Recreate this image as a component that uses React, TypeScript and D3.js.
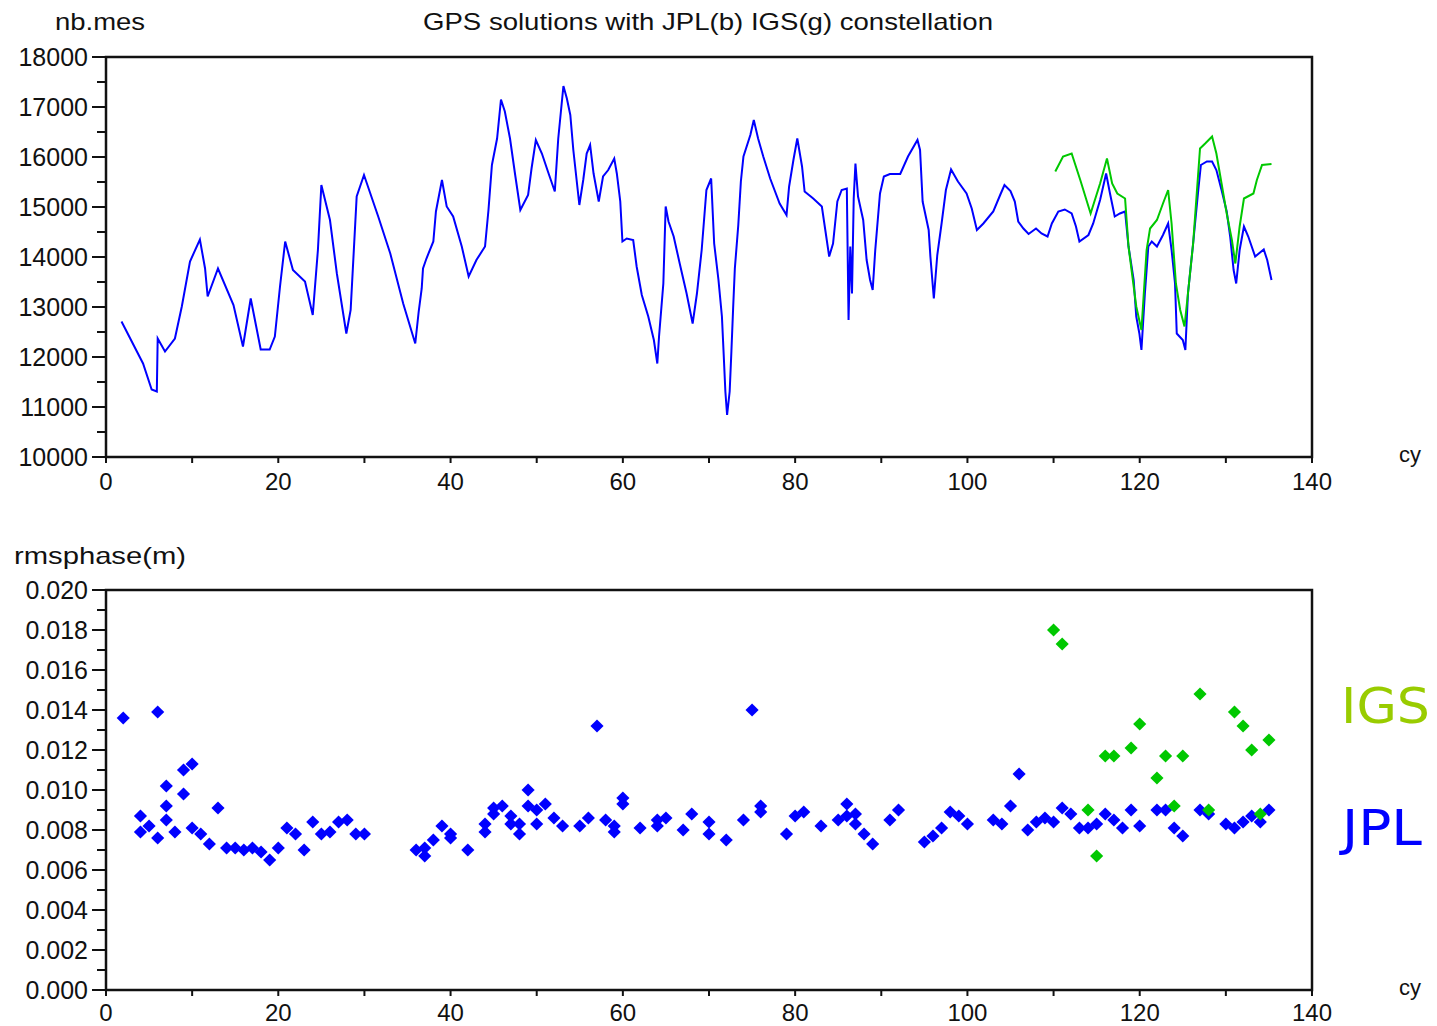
import React from "react";
import * as d3 from "d3";

// ---------- DATA ----------
const xTicksMajor = [0, 20, 40, 60, 80, 100, 120, 140];
const nbTicks = [10000, 11000, 12000, 13000, 14000, 15000, 16000, 17000, 18000];
const rmsTicks = [0.0, 0.002, 0.004, 0.006, 0.008, 0.01, 0.012, 0.014, 0.016, 0.018, 0.02];

// number of measurements, JPL orbits (cycle, nb.mes)
const nbJpl: [number, number][] = [
  [1.8,12710],[4.3,11870],[5.3,11350],[5.9,11310],[6.0,12370],[6.85,12110],[8.0,12370],[8.8,13010],[9.75,13910],[10.9,14350],
  [11.5,13770],[11.8,13210],[13.0,13770],[14.8,13040],[15.9,12210],[16.8,13170],[17.96,12150],[19.0,12150],[19.6,12410],[20.2,13410],
  [20.8,14310],[21.7,13740],[23.1,13510],[24.0,12840],[24.6,14140],[25.0,15440],[26.0,14740],[26.8,13670],[27.9,12470],[28.4,12940],
  [29.1,15210],[29.95,15640],[31.6,14810],[33.0,14070],[34.5,13070],[35.9,12270],[36.3,12910],[36.65,13370],[36.8,13770],[37.2,13970],
  [38.0,14310],[38.3,14910],[39.0,15540],[39.55,15010],[40.3,14810],[41.3,14210],[42.1,13610],[43.0,13940],[44.0,14210],[44.4,14940],
  [44.8,15840],[45.4,16370],[45.85,17150],[46.3,16910],[46.9,16370],[47.5,15640],[48.1,14940],[49.0,15240],[49.4,15770],[49.9,16340],
  [50.6,16070],[51.3,15710],[52.1,15310],[52.5,16370],[53.1,17420],[53.5,17170],[53.9,16840],[54.25,16140],[54.95,15040],[55.4,15540],
  [55.8,16070],[56.2,16240],[56.6,15670],[57.2,15110],[57.7,15610],[58.3,15740],[59.0,15970],[59.3,15670],[59.7,15110],[59.95,14310],
  [60.45,14370],[61.2,14340],[61.6,13810],[62.2,13240],[62.95,12810],[63.6,12340],[64.0,11870],[64.2,12410],[64.7,13470],[64.97,15010],
  [65.3,14710],[65.9,14410],[66.6,13870],[67.4,13270],[68.1,12670],[68.6,13270],[69.15,14140],[69.7,15340],[70.25,15570],[70.6,14270],
  [71.1,13540],[71.5,12810],[71.7,12070],[71.9,11310],[72.1,10840],[72.4,11310],[72.6,12110],[72.8,12970],[73.0,13770],[73.4,14640],
  [73.7,15510],[74.0,16010],[74.8,16440],[75.2,16740],[75.7,16370],[76.3,16010],[77.1,15570],[78.2,15070],[79.0,14840],[79.3,15410],
  [79.8,15940],[80.25,16370],[80.8,15810],[81.1,15310],[82.1,15170],[83.1,15010],[83.5,14540],[83.95,14010],[84.4,14270],[84.9,15110],
  [85.4,15340],[86.0,15370],[86.2,12740],[86.4,14210],[86.6,13270],[86.8,15170],[87.0,15870],[87.3,15210],[87.9,14740],[88.3,13940],
  [88.7,13540],[89.0,13340],[89.3,14140],[89.85,15270],[90.3,15610],[91.0,15660],[92.2,15660],[93.1,16010],[94.2,16340],[94.5,16140],
  [94.8,15110],[95.5,14540],[95.7,14010],[96.1,13170],[96.5,14040],[97.0,14670],[97.5,15340],[98.1,15750],[98.9,15510],[99.9,15270],
  [100.5,14970],[101.1,14540],[101.85,14670],[103.0,14910],[103.8,15240],[104.3,15440],[105.0,15320],[105.5,15110],[105.9,14710],[106.5,14570],
  [107.1,14460],[107.96,14570],[108.6,14470],[109.3,14410],[109.8,14670],[110.55,14910],[111.3,14950],[112.1,14870],[112.6,14610],[113.0,14310],
  [114.05,14440],[114.6,14670],[115.4,15140],[116.1,15670],[116.55,15270],[117.1,14810],[117.7,14870],[118.3,14910],[118.7,14210],[119.3,13540],
  [119.6,12810],[119.96,12470],[120.2,12140],[120.6,13270],[121.0,14210],[121.4,14310],[122.0,14210],[122.7,14440],[123.3,14670],[123.7,14140],
  [124.1,13470],[124.3,12470],[125.0,12340],[125.3,12140],[125.6,13270],[126.2,14270],[126.8,15340],[127.1,15840],[127.8,15910],[128.4,15910],
  [128.9,15740],[129.5,15340],[130.1,14910],[130.5,14410],[130.9,13740],[131.2,13470],[131.6,14140],[132.1,14610],[132.6,14410],[133.4,14010],
  [134.4,14150],[134.8,13940],[135.3,13540],
];

// number of measurements, IGS orbits
const nbIgs: [number, number][] = [
  [110.2,15710],[111.1,16010],[112.1,16070],[113.1,15540],[114.3,14870],[115.4,15470],[116.2,15970],[116.8,15470],[117.4,15270],[118.3,15170],
  [118.7,14210],[119.6,13010],[120.2,12540],[120.8,14140],[121.2,14570],[122.0,14740],[122.7,15070],[123.3,15340],[123.7,14670],[124.2,13470],
  [124.7,12940],[125.2,12610],[125.6,13270],[126.2,14270],[127.0,16170],[127.6,16270],[128.4,16410],[128.9,16070],[129.5,15470],[130.1,14870],
  [130.7,14340],[131.1,13870],[131.6,14610],[132.1,15170],[133.2,15270],[133.6,15540],[134.2,15840],[135.3,15860],
];

// rms phase residuals (m), JPL orbits
const rmsJpl: [number, number][] = [
  [2,0.0136],[4,0.0087],[4,0.0079],[5,0.0082],[6,0.0139],[6,0.0076],[7,0.0102],[7,0.0092],[7,0.0085],[8,0.0079],
  [9,0.0098],[9,0.011],[10,0.0113],[10,0.0081],[11,0.0078],[12,0.0073],[13,0.0091],[14,0.0071],[15,0.0071],[16,0.007],
  [17,0.0071],[18,0.0069],[19,0.0065],[20,0.0071],[21,0.0081],[22,0.0078],[23,0.007],[24,0.0084],[25,0.0078],[26,0.0079],
  [27,0.0084],[28,0.0085],[29,0.0078],[30,0.0078],
  [36,0.007],[37,0.0067],[37,0.0071],[38,0.0075],[39,0.0082],[40,0.0078],[40,0.0076],[42,0.007],[44,0.0083],[44,0.0079],
  [45,0.0091],[45,0.0088],[46,0.0092],[47,0.0087],[47,0.0083],[48,0.0083],[48,0.0078],[49,0.01],[49,0.0092],[50,0.009],
  [50,0.0083],[51,0.0093],[52,0.0086],[53,0.0082],[55,0.0082],[56,0.0086],[57,0.0132],[58,0.0085],[59,0.0082],[59,0.0079],
  [60,0.0096],[60,0.0093],[62,0.0081],[64,0.0085],[64,0.0082],[65,0.0086],[67,0.008],[68,0.0088],[70,0.0084],[70,0.0078],
  [72,0.0075],[74,0.0085],[75,0.014],[76,0.0092],[76,0.0089],[79,0.0078],[80,0.0087],[81,0.0089],[83,0.0082],[85,0.0085],
  [86,0.0093],[86,0.0087],[87,0.0088],[87,0.0083],[88,0.0078],[89,0.0073],[91,0.0085],[92,0.009],[95,0.0074],[96,0.0077],
  [97,0.0081],[98,0.0089],[99,0.0087],[100,0.0083],[103,0.0085],[104,0.0083],[105,0.0092],[106,0.0108],[107,0.008],[108,0.0084],
  [109,0.0086],[110,0.0084],[111,0.0091],[112,0.0088],[113,0.0081],[114,0.0081],[115,0.0083],[116,0.0088],[117,0.0085],[118,0.0081],
  [119,0.009],[120,0.0082],[122,0.009],[123,0.009],[124,0.0081],[125,0.0077],[127,0.009],[128,0.0088],[130,0.0083],[131,0.0081],
  [132,0.0084],[133,0.0087],[134,0.0084],[135,0.009],
];

// rms phase residuals (m), IGS orbits
const rmsIgs: [number, number][] = [
  [110,0.018],[111,0.0173],[114,0.009],[115,0.0067],[116,0.0117],[117,0.0117],[119,0.0121],[120,0.0133],[122,0.0106],[123,0.0117],
  [124,0.0092],[125,0.0117],[127,0.0148],[128,0.009],[131,0.0139],[132,0.0132],[133,0.012],[134,0.0088],[135,0.0125],
];

// ---------- LAYOUT ----------
const W = 1437;
const H = 1026;
const left = 106;
const right = 1312;
const top1 = 57, bot1 = 457;
const top2 = 590, bot2 = 990;
const BLUE = "#0000ff";
const GREEN = "#00c800";
const FONT = "'Liberation Sans', Arial, sans-serif";

const x = d3.scaleLinear().domain([0, 140]).range([left, right]);
const y1 = d3.scaleLinear().domain([10000, 18000]).range([bot1, top1]);
const y2 = d3.scaleLinear().domain([0, 0.02]).range([bot2, top2]);

const nbMinor = d3.range(10000, 18001, 500);
const rmsMinor = d3.range(0, 21).map((i) => i * 0.001);
const xMinor = d3.range(0, 141, 10);

function Frame({ top, bot, labelDy }: { top: number; bot: number; labelDy: number }) {
  return (
    <g>
      <rect x={left} y={top} width={right - left} height={bot - top} fill="none" stroke="#111" strokeWidth={2.5} />
      {xMinor.map((t) => (
        <line key={t} x1={x(t)} x2={x(t)} y1={bot} y2={bot + 6} stroke="#111" strokeWidth={2} />
      ))}
      {xTicksMajor.map((t) => (
        <text key={"l" + t} x={x(t)} y={bot + labelDy} textAnchor="middle" fontFamily={FONT} fontSize={24} fill="#111">
          {t}
        </text>
      ))}
      <text x={1410} y={bot + 5} textAnchor="middle" fontFamily={FONT} fontSize={22} fill="#111">cy</text>
    </g>
  );
}

export default function App() {
  const line = d3
    .line<[number, number]>()
    .x((d) => x(d[0]))
    .y((d) => y1(d[1]));
  const diamond = d3.symbol().type(d3.symbolDiamond2).size(110)() as string;
  const fmt = d3.format(".3f");

  return (
    <svg width={W} height={H} style={{ position: "absolute", left: 0, top: 0, background: "#fff" }}>
      <rect x={0} y={0} width={W} height={H} fill="#fff" />
      {/* Titles */}
      <text x={55} y={30} fontFamily={FONT} fontSize={24} fill="#111" textLength={90} lengthAdjust="spacingAndGlyphs">nb.mes</text>
      <text x={423} y={30} fontFamily={FONT} fontSize={24} fill="#111" textLength={570} lengthAdjust="spacingAndGlyphs">
        GPS solutions with JPL(b) IGS(g) constellation
      </text>
      <text x={14} y={564} fontFamily={FONT} fontSize={24} fill="#111" textLength={172} lengthAdjust="spacingAndGlyphs">rmsphase(m)</text>

      {/* ---- Top panel ---- */}
      <Frame top={top1} bot={bot1} labelDy={33} />
      {nbMinor.map((t) => (
        <line key={t} x1={left - (t % 1000 === 0 ? 14 : 9)} x2={left} y1={y1(t)} y2={y1(t)} stroke="#111" strokeWidth={2} />
      ))}
      {nbTicks.map((t) => (
        <text key={t} x={88} y={y1(t)} dy="0.36em" textAnchor="end" fontFamily={FONT} fontSize={25} fill="#111">
          {t}
        </text>
      ))}
      <path d={line(nbJpl) || ""} fill="none" stroke={BLUE} strokeWidth={2} />
      <path d={line(nbIgs) || ""} fill="none" stroke={GREEN} strokeWidth={2} />

      {/* ---- Bottom panel ---- */}
      <Frame top={top2} bot={bot2} labelDy={31} />
      {rmsMinor.map((t, i) => (
        <line key={i} x1={left - (i % 2 === 0 ? 14 : 9)} x2={left} y1={y2(t)} y2={y2(t)} stroke="#111" strokeWidth={2} />
      ))}
      {rmsTicks.map((t, i) => (
        <text key={i} x={88} y={y2(t)} dy="0.36em" textAnchor="end" fontFamily={FONT} fontSize={25} fill="#111">
          {fmt(t)}
        </text>
      ))}
      {rmsJpl.map((d, i) => (
        <path key={"j" + i} d={diamond} transform={`translate(${x(d[0])},${y2(d[1])})`} fill={BLUE} />
      ))}
      {rmsIgs.map((d, i) => (
        <path key={"g" + i} d={diamond} transform={`translate(${x(d[0])},${y2(d[1])})`} fill={GREEN} />
      ))}

      {/* Legend */}
      <text x={1341} y={723} fontFamily="'DejaVu Sans', sans-serif" fontSize={50} fill="#99cc00" textLength={89} lengthAdjust="spacingAndGlyphs">IGS</text>
      <text x={1342} y={845} fontFamily="'DejaVu Sans', sans-serif" fontSize={50} fill={BLUE} textLength={80} lengthAdjust="spacingAndGlyphs">JPL</text>
    </svg>
  );
}
